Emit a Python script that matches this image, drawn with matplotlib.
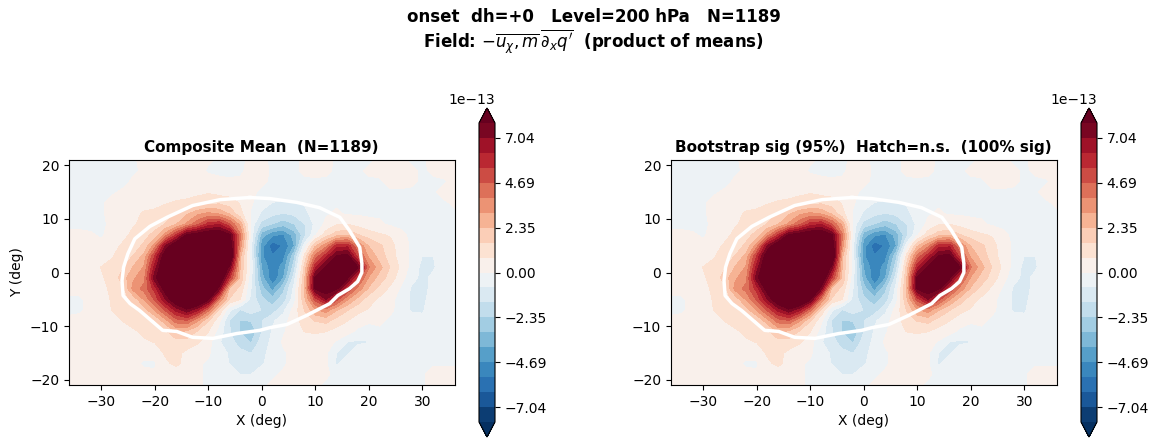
import numpy as np
import matplotlib
matplotlib.use('Agg')
import matplotlib.pyplot as plt

x = np.arange(-36, 37, 2)
y = np.arange(21, -22, -2)

# composite mean, units of 1e-13, rows run from y=21 down to y=-21
field = [
    [-.2, -.2, -.2, -.2, -.2, -.2, -.1, .2, .2, .2, .2, .2, .2, .1, -.1, -.1, -.1, .1, .1, -.1, -.1, -.1, .1, .2, .2, -.1, -.1, -.1, -.1, .1, .1, .1, -.1, -.1, .2, .3, .3],
    [-.3, -.3, -.3, -.3, -.3, -.3, -.1, .1, .3, .3, .3, .3, .3, -.1, -.2, -.2, -.1, .2, .2, -.1, -.2, -.1, .1, .2, .1, -.1, -.1, -.1, .1, .2, .2, .2, .1, -.1, .1, .3, .3],
    [-.3, -.3, -.3, -.3, -.3, -.2, .1, .2, .3, .3, .3, .3, .3, .3, .2, .1, .1, .2, .1, -.1, -.1, -.1, -.1, -.1, -.1, -.1, -.1, -.1, -.1, -.1, .2, .2, .1, -.1, -.1, -.1, .2],
    [-.3, -.3, -.3, -.3, -.1, .1, .2, .3, .3, .3, .3, .4, .6, .7, .5, .4, .2, .1, -.1, -.3, -.4, -.3, -.1, -.1, -.1, -.1, -.1, -.1, -.1, -.1, -.1, -.1, -.1, -.1, -.1, .2, .2],
    [-.3, -.3, -.3, -.1, .2, .3, .3, .4, .5, .7, .9, 1.0, 1.1, 1.3, 1.4, 1.2, .7, .1, -.5, -.8, -.9, -.9, -.7, -.2, -.1, -.1, -.1, -.1, -.1, -.1, -.1, -.1, -.1, -.1, -.1, -.1, .1],
    [-.3, -.3, -.2, -.1, .2, .3, .5, .9, 1.0, 1.3, 1.6, 2.2, 2.9, 3.3, 3.0, 2.2, 1.0, -.1, -.9, -1.4, -1.6, -1.4, -1.0, -.4, -.1, .1, -.1, -.1, -.1, -.1, -.1, -.1, -.1, -.1, -.1, -.1, -.1],
    [-.1, -.1, -.2, -.2, .2, .3, .7, 1.0, 1.2, 1.6, 2.3, 3.3, 4.5, 5.8, 6.2, 4.8, 2.8, -.3, -1.9, -2.4, -2.9, -2.4, -1.6, -.6, .2, .7, .8, .5, .2, .1, -.1, -.1, -.1, -.1, -.1, -.1, -.1],
    [.1, .1, .1, -.1, .3, .5, 1.0, 1.3, 1.8, 3.5, 5.5, 8, 8.5, 9, 9, 8, 4, -.3, -3.6, -4.6, -4.8, -3.6, -1.8, -.1, 1.2, 2, 2.2, 1.6, 1.2, .9, .7, .1, -.1, -.1, -.1, -.1, -.1],
    [.2, .2, .2, .2, .5, .9, 1.2, 1.7, 3.5, 7, 9, 10, 10, 10, 10, 9, 3.5, -.6, -4.4, -6, -5.4, -4, -.4, 2.2, 3.6, 5.8, 6, 3.8, 2.3, 1.7, 1.1, .3, -.1, -.2, -.3, -.2, -.1],
    [.2, .2, .3, .3, .7, 1.2, 1.6, 2.6, 5.5, 8.8, 10, 10, 10, 10, 10, 9.5, 2.5, -.5, -4.6, -5.4, -5, -2.6, 1, 4.2, 6, 8, 8.3, 5, 3, 2, 1.2, .4, -.2, -.8, -.8, -.3, -.1],
    [.2, .2, .3, .8, 1.1, 1.5, 2.4, 3.2, 6.5, 9.5, 10, 10, 10, 10, 10, 7.5, 2.2, -.3, -4, -5.2, -4.4, -2, 1.8, 6, 8, 9, 9, 7.8, 4, 2.6, 1.5, .6, -.3, -1.0, -.9, -.3, -.1],
    [.2, .2, .3, .7, 1.0, 1.9, 3.0, 3.6, 7.5, 9.5, 10, 10, 10, 10, 9.5, 5.5, 2.2, -.6, -3.6, -5.4, -4, -1.2, 2.2, 8, 9, 9, 8, 5, 3, 2, 1.2, .3, -.5, -1.0, -.6, -.2, -.1],
    [.2, .2, .2, .6, .9, 1.3, 3.4, 4.2, 5.8, 8.5, 10, 10, 10, 10, 7.5, 2.2, 1.3, -.8, -2.8, -4.2, -2.6, -.6, 2.4, 8, 8.6, 8, 5.5, 3.6, 2.2, 1.3, .6, -.1, -.9, -1.0, -.6, -.2, -.1],
    [-.1, -.1, .2, .2, .9, 1.2, 1.8, 3.2, 4.8, 7, 9, 10, 10, 8, 4, 1.5, .8, -1, -2.2, -2.8, -2, -.4, 2.2, 5, 7, 5, 3.2, 2, 1.1, .6, .2, -.3, -.9, -1.0, -.4, -.2, -.1],
    [-.2, -.1, .2, .2, .8, 1.0, 1.3, 1.9, 3.2, 4.8, 6.5, 7.6, 6.4, 4.2, 1.5, -.6, -1.6, -1.2, -1.6, -2, -1, .3, 1.6, 3, 3.5, 2.4, 1.6, 1.0, .7, .4, .1, -.2, -.9, -.9, -.2, -.1, -.1],
    [.2, .2, .2, .2, .4, .8, 1, 1.1, 1.5, 2.8, 4.3, 4.6, 3.2, 1.6, .2, -1.6, -2.4, -2.3, -1.6, -.9, -.4, .5, 1.1, 1.6, 1.8, 1.2, .8, .4, .2, .1, -.1, -.1, -.3, -.5, -.1, -.1, -.1],
    [.2, .2, .2, .2, .2, .4, .7, .9, 1.0, 1.4, 2.4, 2.2, 1.5, .8, -.3, -1.5, -2.4, -3, -1.6, -.7, -.1, .4, .8, .9, .8, .5, .3, -.2, -.6, -.1, -.1, -.1, -.1, -.1, -.1, -.1, -.1],
    [.2, .2, .2, .2, .2, .2, .5, .7, .8, .9, 1.2, 1.2, .9, .3, -.7, -1.2, -2, -2.4, -1.2, -.6, .1, .3, .4, .3, .3, -.1, -.8, -.9, -.8, -.2, -.1, -.1, -.1, -.1, -.1, -.1, -.1],
    [.2, .2, .2, .2, .2, .2, .2, .2, .3, .9, 1.0, .6, .3, .1, -.4, -.9, -1.3, -1.6, -1, -.5, -.1, .2, .2, .2, .1, -.8, -.9, -.4, -.1, -.1, -.1, -.1, -.1, -.1, -.1, -.1, -.1],
    [.2, .2, .2, .2, .2, .2, .2, -.1, -.1, .6, 1.0, .4, .1, -.1, -.5, -.8, -.9, -.9, -.9, -.4, -.1, .2, .2, .1, .1, -.9, -.2, -.1, -.1, -.1, -.1, -.1, -.1, -.1, -.1, -.1, -.1],
    [.2, .2, .2, .2, .2, .2, .2, .2, .1, .2, .2, .2, .1, -.1, -.2, -.2, -.8, -.8, -.3, -.1, .1, .2, .2, .1, .1, -.2, -.1, -.1, -.1, -.1, -.1, -.1, -.1, -.1, .3, .3, .3],
    [.2, .2, .1, .1, .2, .2, .2, .2, .2, .2, .2, .2, .1, -.1, -.1, -.1, -.2, -.2, -.1, .1, .2, .2, .1, .1, -.1, -.1, -.1, -.1, -.1, -.1, -.1, -.1, -.1, -.1, .3, .3, .3],
]

# white outline, degrees
outline_x = [-2.2, -7.8, -12.9, -17.7, -20.9, -23.7, -25, -25.8, -26.1, -25.9, -24.6, -22.8, -20.6, -18.5, -15.9, -12.9, -9.1, -4.7,
             -0.4, 1.5, 4.7, 8.4, 12.7, 14.2, 16.4, 17.9, 18.7, 18.7, 18.3, 16.4, 14.6, 10.8, 6.5, 1.5, -2.2]
outline_y = [14, 13.6, 12.5, 10.3, 8.6, 6.3, 3.5, 1, -1.5, -4.3, -5.8, -7.1, -9, -10.8, -11, -12.1, -12.3, -11.4,
             -10.8, -10.3, -9.7, -8, -5.8, -4.3, -3, -1.7, 0, 1.7, 4.7, 7.8, 10.3, 12.1, 13.1, 13.8, 14]

vmax = 7.82e-13
titles = ['Composite Mean  (N=1189)', 'Bootstrap sig (95%)  Hatch=n.s.  (100% sig)']

Z = np.array(field) * 1e-13
levels = np.linspace(-vmax, vmax, 21)

W, H = 1160, 446
fig = plt.figure(figsize=(W / 100, H / 100), dpi=100)
fig.text(593.5 / W, 1 - 17 / H, "onset  dh=+0   Level=200 hPa   N=1189",
         fontsize=12, fontweight='bold', ha='center', va='center')
fig.text(594 / W, 1 - 42 / H, r"Field: $-\overline{u_{\chi},m}\,\overline{\partial_x q'}$  (product of means)",
         fontsize=12, fontweight='bold', ha='center', va='center')

for i, left in enumerate([69, 671]):
    ax = fig.add_axes([left / W, (H - 385) / H, 385.5 / W, 225 / H])
    cf = ax.contourf(x, y, Z, levels=levels, cmap='RdBu_r', extend='both')
    ax.plot(outline_x, outline_y, color='white', lw=2.5)
    ax.set_xlim(-36, 36)
    ax.set_ylim(-21, 21)
    ax.set_xticks([-30, -20, -10, 0, 10, 20, 30])
    ax.set_yticks([-20, -10, 0, 10, 20])
    ax.set_xlabel('X (deg)')
    if i == 0:
        ax.set_ylabel('Y (deg)')
    ax.set_title(titles[i], fontsize=11, fontweight='bold', pad=6)

    cax = fig.add_axes([(left + 410) / W, (H - 437) / H, 16 / W, 329 / H])
    cb = fig.colorbar(cf, cax=cax)
    cb.set_ticks(levels[1::3])

fig.savefig('out.png', dpi=100)
